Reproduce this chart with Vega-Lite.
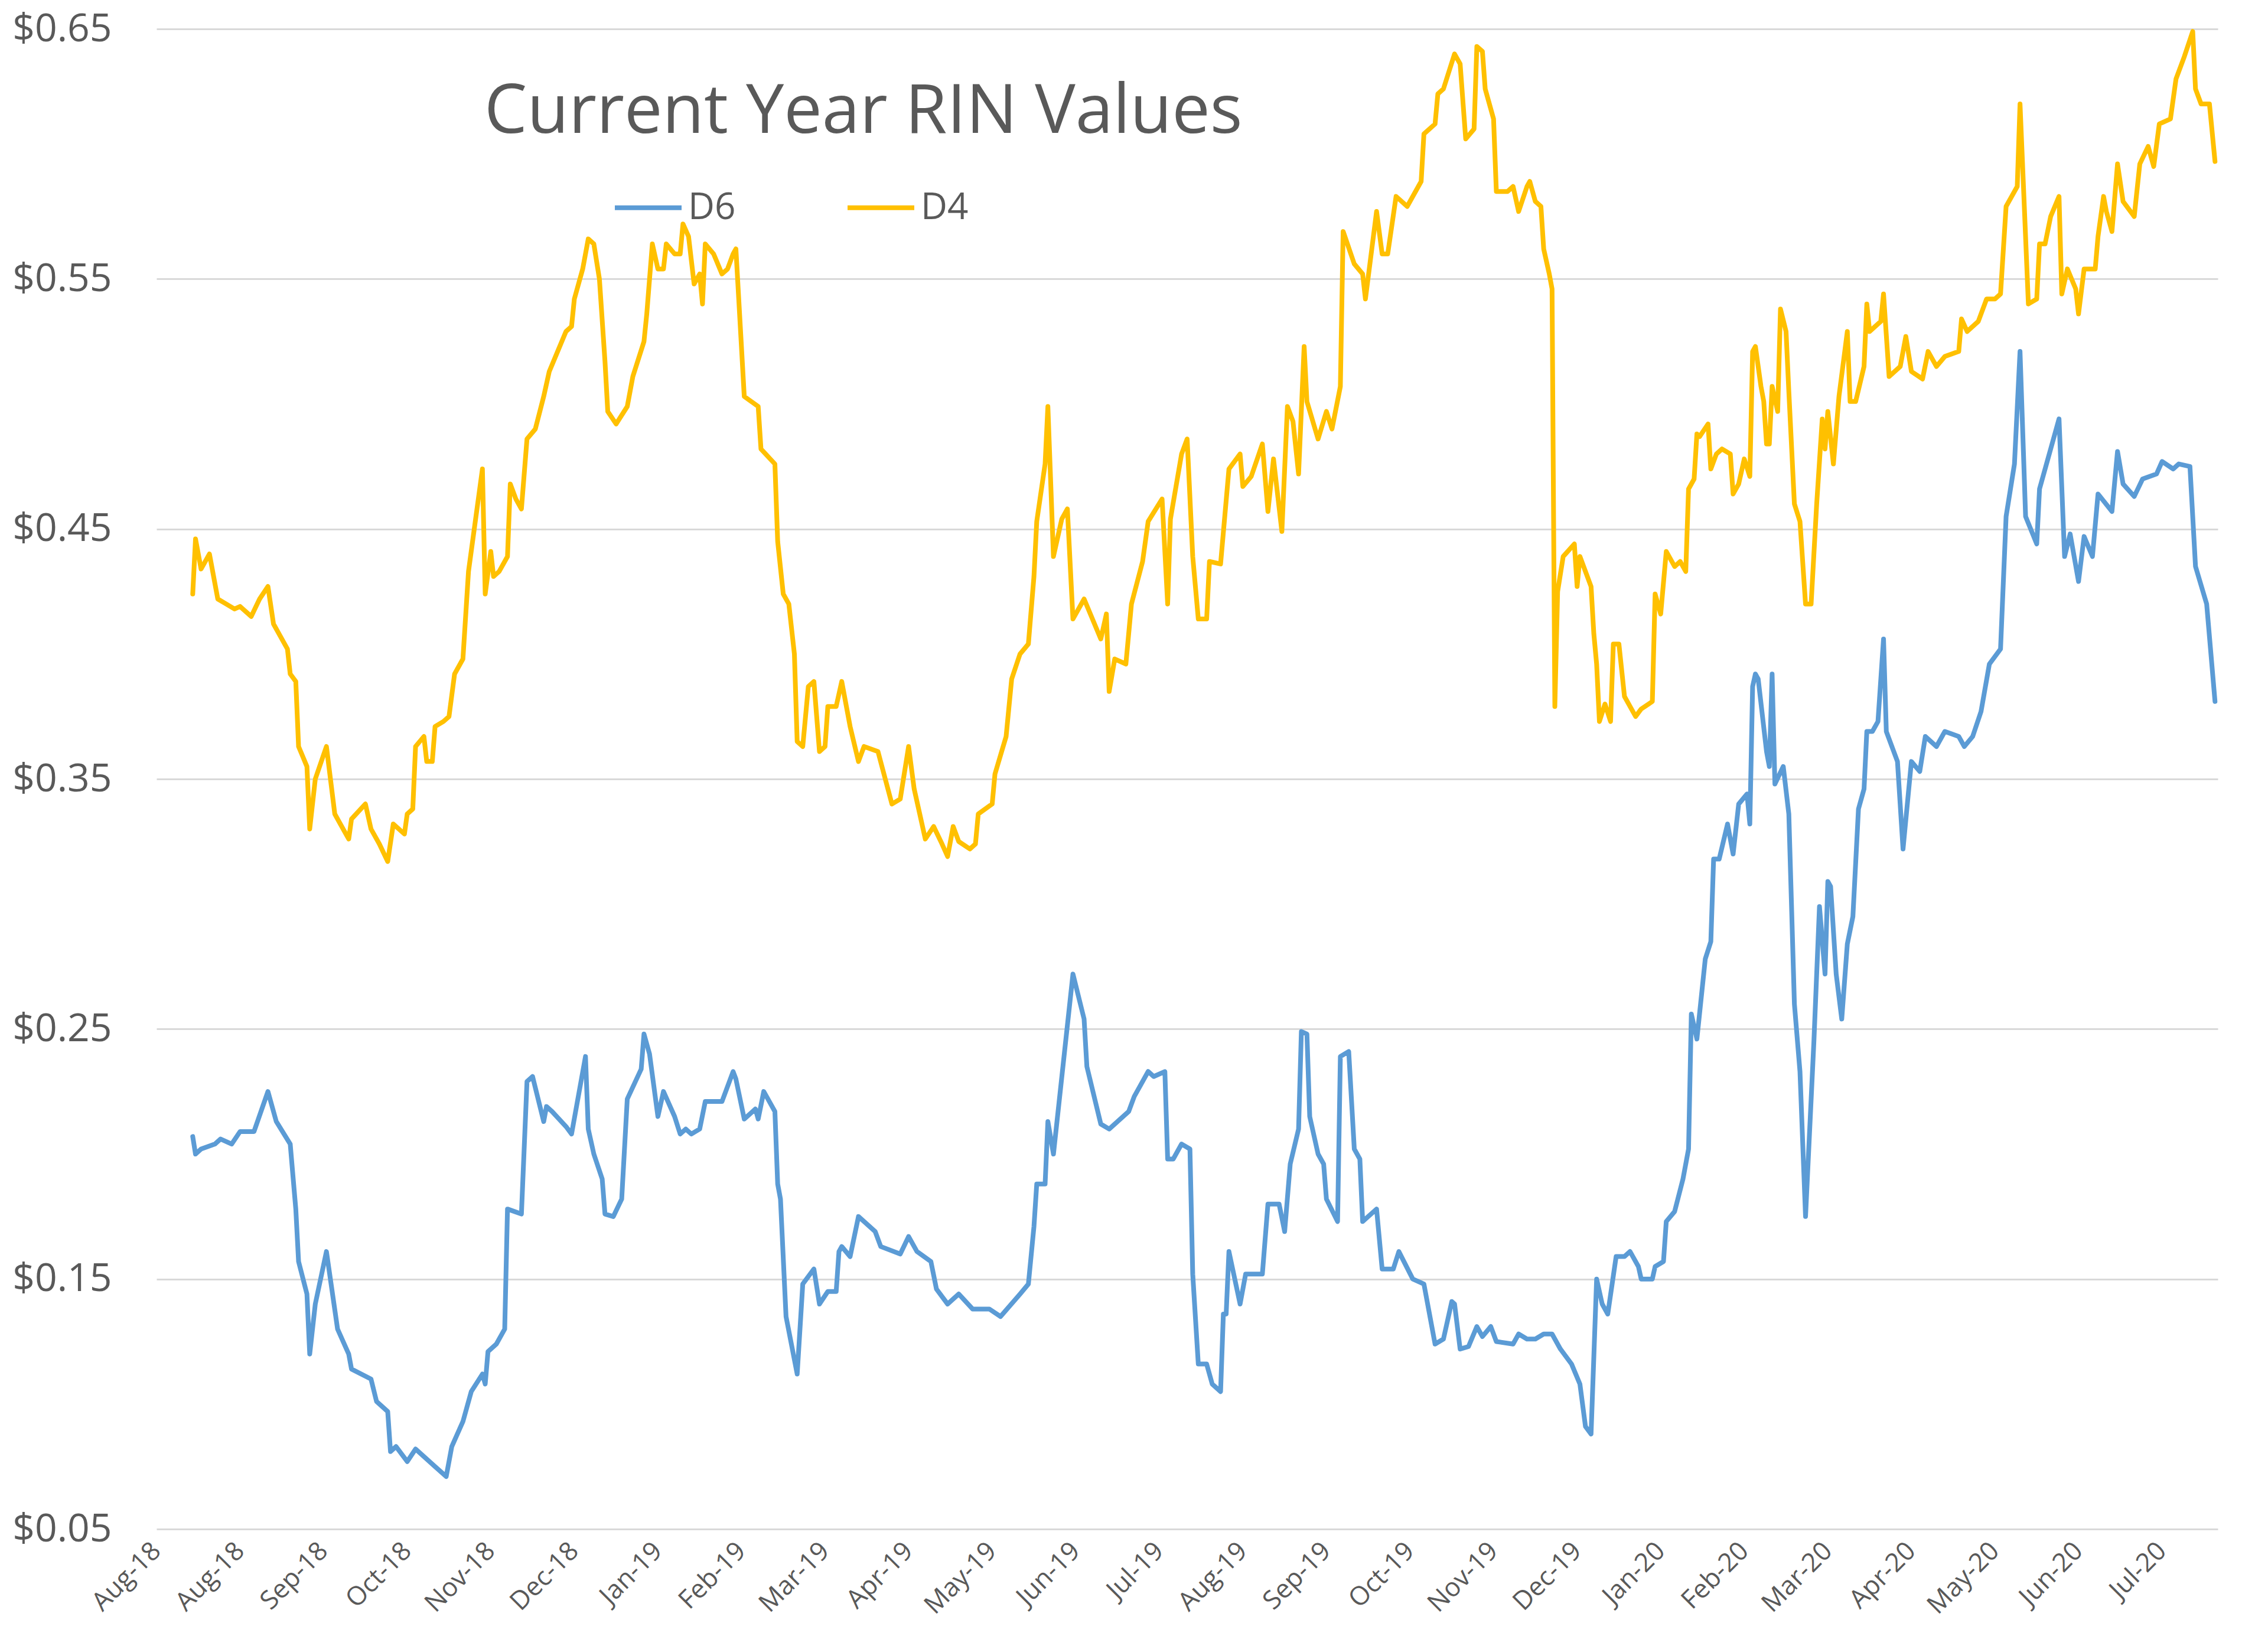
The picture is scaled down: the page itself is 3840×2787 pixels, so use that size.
{
  "$schema": "https://vega.github.io/schema/vega-lite/v6.json",
  "autosize": {"type": "none"},
  "width": 3490,
  "height": 2540,
  "padding": {"left": 265, "top": 49, "right": 85, "bottom": 198},
  "background": "white",
  "config": {"view": {"stroke": null}, "font": "Open Sans"},
  "title": {"text": "Current Year RIN Values", "orient": "top", "anchor": "start", "frame": "group", "offset": 0, "dx": 555, "dy": 324, "baseline": "alphabetic", "fontSize": 115, "fontWeight": "normal", "font": "Open Sans", "color": "#595959"},
  "data": {"values": [
{"date":"2018-08-14","series":"D6","price":0.207},{"date":"2018-08-15","series":"D6","price":0.200},{"date":"2018-08-17","series":"D6","price":0.202},{"date":"2018-08-22","series":"D6","price":0.204},{"date":"2018-08-24","series":"D6","price":0.206},{"date":"2018-08-28","series":"D6","price":0.204},{"date":"2018-08-31","series":"D6","price":0.209},{"date":"2018-09-05","series":"D6","price":0.209},{"date":"2018-09-10","series":"D6","price":0.225},{"date":"2018-09-13","series":"D6","price":0.213},{"date":"2018-09-18","series":"D6","price":0.204},{"date":"2018-09-20","series":"D6","price":0.178},{"date":"2018-09-21","series":"D6","price":0.157},{"date":"2018-09-24","series":"D6","price":0.144},{"date":"2018-09-25","series":"D6","price":0.120},{"date":"2018-09-27","series":"D6","price":0.140},{"date":"2018-10-01","series":"D6","price":0.161},{"date":"2018-10-05","series":"D6","price":0.130},{"date":"2018-10-09","series":"D6","price":0.120},{"date":"2018-10-10","series":"D6","price":0.114},{"date":"2018-10-17","series":"D6","price":0.110},{"date":"2018-10-19","series":"D6","price":0.101},{"date":"2018-10-23","series":"D6","price":0.097},{"date":"2018-10-24","series":"D6","price":0.081},{"date":"2018-10-26","series":"D6","price":0.083},{"date":"2018-10-30","series":"D6","price":0.077},{"date":"2018-11-02","series":"D6","price":0.082},{"date":"2018-11-05","series":"D6","price":0.079},{"date":"2018-11-09","series":"D6","price":0.075},{"date":"2018-11-13","series":"D6","price":0.071},{"date":"2018-11-15","series":"D6","price":0.083},{"date":"2018-11-19","series":"D6","price":0.093},{"date":"2018-11-22","series":"D6","price":0.105},{"date":"2018-11-26","series":"D6","price":0.112},{"date":"2018-11-27","series":"D6","price":0.108},{"date":"2018-11-28","series":"D6","price":0.121},{"date":"2018-12-01","series":"D6","price":0.124},{"date":"2018-12-04","series":"D6","price":0.130},{"date":"2018-12-05","series":"D6","price":0.178},{"date":"2018-12-10","series":"D6","price":0.176},{"date":"2018-12-12","series":"D6","price":0.229},{"date":"2018-12-14","series":"D6","price":0.231},{"date":"2018-12-18","series":"D6","price":0.213},{"date":"2018-12-19","series":"D6","price":0.219},{"date":"2018-12-21","series":"D6","price":0.217},{"date":"2018-12-26","series":"D6","price":0.211},{"date":"2018-12-28","series":"D6","price":0.208},{"date":"2019-01-02","series":"D6","price":0.239},{"date":"2019-01-03","series":"D6","price":0.210},{"date":"2019-01-05","series":"D6","price":0.200},{"date":"2019-01-08","series":"D6","price":0.190},{"date":"2019-01-09","series":"D6","price":0.176},{"date":"2019-01-12","series":"D6","price":0.175},{"date":"2019-01-15","series":"D6","price":0.182},{"date":"2019-01-17","series":"D6","price":0.222},{"date":"2019-01-22","series":"D6","price":0.234},{"date":"2019-01-23","series":"D6","price":0.248},{"date":"2019-01-25","series":"D6","price":0.240},{"date":"2019-01-28","series":"D6","price":0.215},{"date":"2019-01-30","series":"D6","price":0.225},{"date":"2019-02-03","series":"D6","price":0.215},{"date":"2019-02-05","series":"D6","price":0.208},{"date":"2019-02-07","series":"D6","price":0.210},{"date":"2019-02-09","series":"D6","price":0.208},{"date":"2019-02-12","series":"D6","price":0.210},{"date":"2019-02-14","series":"D6","price":0.221},{"date":"2019-02-20","series":"D6","price":0.221},{"date":"2019-02-24","series":"D6","price":0.233},{"date":"2019-02-25","series":"D6","price":0.230},{"date":"2019-02-28","series":"D6","price":0.214},{"date":"2019-03-04","series":"D6","price":0.218},{"date":"2019-03-05","series":"D6","price":0.214},{"date":"2019-03-07","series":"D6","price":0.225},{"date":"2019-03-11","series":"D6","price":0.217},{"date":"2019-03-12","series":"D6","price":0.188},{"date":"2019-03-13","series":"D6","price":0.182},{"date":"2019-03-15","series":"D6","price":0.135},{"date":"2019-03-19","series":"D6","price":0.112},{"date":"2019-03-21","series":"D6","price":0.148},{"date":"2019-03-25","series":"D6","price":0.154},{"date":"2019-03-27","series":"D6","price":0.140},{"date":"2019-03-30","series":"D6","price":0.145},{"date":"2019-04-02","series":"D6","price":0.145},{"date":"2019-04-03","series":"D6","price":0.161},{"date":"2019-04-04","series":"D6","price":0.163},{"date":"2019-04-07","series":"D6","price":0.159},{"date":"2019-04-10","series":"D6","price":0.175},{"date":"2019-04-16","series":"D6","price":0.169},{"date":"2019-04-18","series":"D6","price":0.163},{"date":"2019-04-25","series":"D6","price":0.160},{"date":"2019-04-28","series":"D6","price":0.167},{"date":"2019-05-01","series":"D6","price":0.161},{"date":"2019-05-06","series":"D6","price":0.157},{"date":"2019-05-08","series":"D6","price":0.146},{"date":"2019-05-12","series":"D6","price":0.140},{"date":"2019-05-16","series":"D6","price":0.144},{"date":"2019-05-21","series":"D6","price":0.138},{"date":"2019-05-27","series":"D6","price":0.138},{"date":"2019-05-31","series":"D6","price":0.135},{"date":"2019-06-07","series":"D6","price":0.144},{"date":"2019-06-10","series":"D6","price":0.148},{"date":"2019-06-12","series":"D6","price":0.171},{"date":"2019-06-13","series":"D6","price":0.188},{"date":"2019-06-16","series":"D6","price":0.188},{"date":"2019-06-17","series":"D6","price":0.213},{"date":"2019-06-19","series":"D6","price":0.200},{"date":"2019-06-26","series":"D6","price":0.272},{"date":"2019-06-30","series":"D6","price":0.254},{"date":"2019-07-01","series":"D6","price":0.235},{"date":"2019-07-06","series":"D6","price":0.212},{"date":"2019-07-09","series":"D6","price":0.210},{"date":"2019-07-16","series":"D6","price":0.217},{"date":"2019-07-18","series":"D6","price":0.223},{"date":"2019-07-23","series":"D6","price":0.233},{"date":"2019-07-25","series":"D6","price":0.231},{"date":"2019-07-29","series":"D6","price":0.233},{"date":"2019-07-30","series":"D6","price":0.198},{"date":"2019-08-01","series":"D6","price":0.198},{"date":"2019-08-04","series":"D6","price":0.204},{"date":"2019-08-07","series":"D6","price":0.202},{"date":"2019-08-08","series":"D6","price":0.152},{"date":"2019-08-10","series":"D6","price":0.116},{"date":"2019-08-13","series":"D6","price":0.116},{"date":"2019-08-15","series":"D6","price":0.108},{"date":"2019-08-18","series":"D6","price":0.105},{"date":"2019-08-19","series":"D6","price":0.136},{"date":"2019-08-20","series":"D6","price":0.136},{"date":"2019-08-21","series":"D6","price":0.161},{"date":"2019-08-25","series":"D6","price":0.140},{"date":"2019-08-27","series":"D6","price":0.152},{"date":"2019-09-02","series":"D6","price":0.152},{"date":"2019-09-04","series":"D6","price":0.180},{"date":"2019-09-08","series":"D6","price":0.180},{"date":"2019-09-10","series":"D6","price":0.169},{"date":"2019-09-12","series":"D6","price":0.196},{"date":"2019-09-15","series":"D6","price":0.210},{"date":"2019-09-16","series":"D6","price":0.249},{"date":"2019-09-18","series":"D6","price":0.248},{"date":"2019-09-19","series":"D6","price":0.215},{"date":"2019-09-22","series":"D6","price":0.200},{"date":"2019-09-24","series":"D6","price":0.196},{"date":"2019-09-25","series":"D6","price":0.182},{"date":"2019-09-29","series":"D6","price":0.173},{"date":"2019-09-30","series":"D6","price":0.239},{"date":"2019-10-03","series":"D6","price":0.241},{"date":"2019-10-05","series":"D6","price":0.202},{"date":"2019-10-07","series":"D6","price":0.198},{"date":"2019-10-08","series":"D6","price":0.173},{"date":"2019-10-13","series":"D6","price":0.178},{"date":"2019-10-15","series":"D6","price":0.154},{"date":"2019-10-19","series":"D6","price":0.154},{"date":"2019-10-21","series":"D6","price":0.161},{"date":"2019-10-26","series":"D6","price":0.150},{"date":"2019-10-30","series":"D6","price":0.148},{"date":"2019-11-03","series":"D6","price":0.124},{"date":"2019-11-06","series":"D6","price":0.126},{"date":"2019-11-09","series":"D6","price":0.141},{"date":"2019-11-10","series":"D6","price":0.140},{"date":"2019-11-12","series":"D6","price":0.122},{"date":"2019-11-15","series":"D6","price":0.123},{"date":"2019-11-18","series":"D6","price":0.131},{"date":"2019-11-20","series":"D6","price":0.127},{"date":"2019-11-23","series":"D6","price":0.131},{"date":"2019-11-25","series":"D6","price":0.125},{"date":"2019-12-01","series":"D6","price":0.124},{"date":"2019-12-03","series":"D6","price":0.128},{"date":"2019-12-06","series":"D6","price":0.126},{"date":"2019-12-09","series":"D6","price":0.126},{"date":"2019-12-12","series":"D6","price":0.128},{"date":"2019-12-15","series":"D6","price":0.128},{"date":"2019-12-18","series":"D6","price":0.122},{"date":"2019-12-22","series":"D6","price":0.116},{"date":"2019-12-25","series":"D6","price":0.108},{"date":"2019-12-27","series":"D6","price":0.091},{"date":"2019-12-29","series":"D6","price":0.088},{"date":"2019-12-31","series":"D6","price":0.150},{"date":"2020-01-02","series":"D6","price":0.140},{"date":"2020-01-04","series":"D6","price":0.136},{"date":"2020-01-07","series":"D6","price":0.159},{"date":"2020-01-10","series":"D6","price":0.159},{"date":"2020-01-12","series":"D6","price":0.161},{"date":"2020-01-15","series":"D6","price":0.155},{"date":"2020-01-16","series":"D6","price":0.150},{"date":"2020-01-20","series":"D6","price":0.150},{"date":"2020-01-21","series":"D6","price":0.155},{"date":"2020-01-24","series":"D6","price":0.157},{"date":"2020-01-25","series":"D6","price":0.173},{"date":"2020-01-28","series":"D6","price":0.177},{"date":"2020-01-31","series":"D6","price":0.190},{"date":"2020-02-02","series":"D6","price":0.202},{"date":"2020-02-03","series":"D6","price":0.256},{"date":"2020-02-05","series":"D6","price":0.246},{"date":"2020-02-08","series":"D6","price":0.278},{"date":"2020-02-10","series":"D6","price":0.285},{"date":"2020-02-11","series":"D6","price":0.318},{"date":"2020-02-13","series":"D6","price":0.318},{"date":"2020-02-16","series":"D6","price":0.332},{"date":"2020-02-18","series":"D6","price":0.320},{"date":"2020-02-20","series":"D6","price":0.340},{"date":"2020-02-23","series":"D6","price":0.344},{"date":"2020-02-24","series":"D6","price":0.332},{"date":"2020-02-25","series":"D6","price":0.387},{"date":"2020-02-26","series":"D6","price":0.392},{"date":"2020-02-27","series":"D6","price":0.390},{"date":"2020-03-01","series":"D6","price":0.361},{"date":"2020-03-02","series":"D6","price":0.355},{"date":"2020-03-03","series":"D6","price":0.392},{"date":"2020-03-04","series":"D6","price":0.348},{"date":"2020-03-07","series":"D6","price":0.355},{"date":"2020-03-09","series":"D6","price":0.336},{"date":"2020-03-11","series":"D6","price":0.260},{"date":"2020-03-13","series":"D6","price":0.233},{"date":"2020-03-15","series":"D6","price":0.175},{"date":"2020-03-18","series":"D6","price":0.245},{"date":"2020-03-20","series":"D6","price":0.299},{"date":"2020-03-22","series":"D6","price":0.272},{"date":"2020-03-23","series":"D6","price":0.309},{"date":"2020-03-24","series":"D6","price":0.307},{"date":"2020-03-26","series":"D6","price":0.272},{"date":"2020-03-28","series":"D6","price":0.254},{"date":"2020-03-30","series":"D6","price":0.284},{"date":"2020-04-01","series":"D6","price":0.295},{"date":"2020-04-03","series":"D6","price":0.338},{"date":"2020-04-05","series":"D6","price":0.346},{"date":"2020-04-06","series":"D6","price":0.369},{"date":"2020-04-08","series":"D6","price":0.369},{"date":"2020-04-10","series":"D6","price":0.373},{"date":"2020-04-12","series":"D6","price":0.406},{"date":"2020-04-13","series":"D6","price":0.369},{"date":"2020-04-17","series":"D6","price":0.357},{"date":"2020-04-19","series":"D6","price":0.322},{"date":"2020-04-22","series":"D6","price":0.357},{"date":"2020-04-25","series":"D6","price":0.353},{"date":"2020-04-27","series":"D6","price":0.367},{"date":"2020-05-01","series":"D6","price":0.363},{"date":"2020-05-04","series":"D6","price":0.369},{"date":"2020-05-09","series":"D6","price":0.367},{"date":"2020-05-11","series":"D6","price":0.363},{"date":"2020-05-14","series":"D6","price":0.367},{"date":"2020-05-17","series":"D6","price":0.377},{"date":"2020-05-20","series":"D6","price":0.396},{"date":"2020-05-24","series":"D6","price":0.402},{"date":"2020-05-26","series":"D6","price":0.455},{"date":"2020-05-29","series":"D6","price":0.476},{"date":"2020-05-31","series":"D6","price":0.521},{"date":"2020-06-02","series":"D6","price":0.455},{"date":"2020-06-06","series":"D6","price":0.444},{"date":"2020-06-07","series":"D6","price":0.466},{"date":"2020-06-11","series":"D6","price":0.482},{"date":"2020-06-14","series":"D6","price":0.494},{"date":"2020-06-16","series":"D6","price":0.439},{"date":"2020-06-18","series":"D6","price":0.448},{"date":"2020-06-21","series":"D6","price":0.429},{"date":"2020-06-23","series":"D6","price":0.447},{"date":"2020-06-26","series":"D6","price":0.439},{"date":"2020-06-28","series":"D6","price":0.464},{"date":"2020-07-03","series":"D6","price":0.457},{"date":"2020-07-05","series":"D6","price":0.481},{"date":"2020-07-07","series":"D6","price":0.468},{"date":"2020-07-11","series":"D6","price":0.463},{"date":"2020-07-14","series":"D6","price":0.470},{"date":"2020-07-19","series":"D6","price":0.472},{"date":"2020-07-21","series":"D6","price":0.477},{"date":"2020-07-25","series":"D6","price":0.474},{"date":"2020-07-27","series":"D6","price":0.476},{"date":"2020-07-31","series":"D6","price":0.475},{"date":"2020-08-02","series":"D6","price":0.435},{"date":"2020-08-06","series":"D6","price":0.420},{"date":"2020-08-09","series":"D6","price":0.381},
{"date":"2018-08-14","series":"D4","price":0.424},{"date":"2018-08-15","series":"D4","price":0.446},{"date":"2018-08-17","series":"D4","price":0.434},{"date":"2018-08-20","series":"D4","price":0.440},{"date":"2018-08-23","series":"D4","price":0.422},{"date":"2018-08-26","series":"D4","price":0.420},{"date":"2018-08-29","series":"D4","price":0.418},{"date":"2018-08-31","series":"D4","price":0.419},{"date":"2018-09-04","series":"D4","price":0.415},{"date":"2018-09-07","series":"D4","price":0.422},{"date":"2018-09-10","series":"D4","price":0.427},{"date":"2018-09-12","series":"D4","price":0.412},{"date":"2018-09-17","series":"D4","price":0.402},{"date":"2018-09-18","series":"D4","price":0.392},{"date":"2018-09-20","series":"D4","price":0.389},{"date":"2018-09-21","series":"D4","price":0.363},{"date":"2018-09-24","series":"D4","price":0.355},{"date":"2018-09-25","series":"D4","price":0.330},{"date":"2018-09-27","series":"D4","price":0.350},{"date":"2018-10-01","series":"D4","price":0.363},{"date":"2018-10-04","series":"D4","price":0.336},{"date":"2018-10-06","series":"D4","price":0.332},{"date":"2018-10-09","series":"D4","price":0.326},{"date":"2018-10-10","series":"D4","price":0.334},{"date":"2018-10-15","series":"D4","price":0.340},{"date":"2018-10-17","series":"D4","price":0.330},{"date":"2018-10-20","series":"D4","price":0.324},{"date":"2018-10-23","series":"D4","price":0.317},{"date":"2018-10-25","series":"D4","price":0.332},{"date":"2018-10-29","series":"D4","price":0.328},{"date":"2018-10-30","series":"D4","price":0.336},{"date":"2018-11-01","series":"D4","price":0.338},{"date":"2018-11-02","series":"D4","price":0.363},{"date":"2018-11-05","series":"D4","price":0.367},{"date":"2018-11-06","series":"D4","price":0.357},{"date":"2018-11-08","series":"D4","price":0.357},{"date":"2018-11-09","series":"D4","price":0.371},{"date":"2018-11-12","series":"D4","price":0.373},{"date":"2018-11-14","series":"D4","price":0.375},{"date":"2018-11-16","series":"D4","price":0.392},{"date":"2018-11-19","series":"D4","price":0.398},{"date":"2018-11-21","series":"D4","price":0.433},{"date":"2018-11-26","series":"D4","price":0.474},{"date":"2018-11-27","series":"D4","price":0.424},{"date":"2018-11-29","series":"D4","price":0.441},{"date":"2018-11-30","series":"D4","price":0.431},{"date":"2018-12-02","series":"D4","price":0.433},{"date":"2018-12-05","series":"D4","price":0.439},{"date":"2018-12-06","series":"D4","price":0.468},{"date":"2018-12-08","series":"D4","price":0.462},{"date":"2018-12-10","series":"D4","price":0.458},{"date":"2018-12-12","series":"D4","price":0.486},{"date":"2018-12-15","series":"D4","price":0.490},{"date":"2018-12-18","series":"D4","price":0.503},{"date":"2018-12-20","series":"D4","price":0.513},{"date":"2018-12-23","series":"D4","price":0.521},{"date":"2018-12-26","series":"D4","price":0.529},{"date":"2018-12-28","series":"D4","price":0.531},{"date":"2018-12-29","series":"D4","price":0.542},{"date":"2019-01-01","series":"D4","price":0.554},{"date":"2019-01-03","series":"D4","price":0.566},{"date":"2019-01-05","series":"D4","price":0.564},{"date":"2019-01-07","series":"D4","price":0.550},{"date":"2019-01-09","series":"D4","price":0.517},{"date":"2019-01-10","series":"D4","price":0.497},{"date":"2019-01-13","series":"D4","price":0.492},{"date":"2019-01-17","series":"D4","price":0.499},{"date":"2019-01-19","series":"D4","price":0.511},{"date":"2019-01-23","series":"D4","price":0.525},{"date":"2019-01-24","series":"D4","price":0.536},{"date":"2019-01-26","series":"D4","price":0.564},{"date":"2019-01-28","series":"D4","price":0.554},{"date":"2019-01-30","series":"D4","price":0.554},{"date":"2019-01-31","series":"D4","price":0.564},{"date":"2019-02-03","series":"D4","price":0.560},{"date":"2019-02-05","series":"D4","price":0.560},{"date":"2019-02-06","series":"D4","price":0.572},{"date":"2019-02-08","series":"D4","price":0.567},{"date":"2019-02-10","series":"D4","price":0.548},{"date":"2019-02-12","series":"D4","price":0.552},{"date":"2019-02-13","series":"D4","price":0.540},{"date":"2019-02-14","series":"D4","price":0.564},{"date":"2019-02-17","series":"D4","price":0.560},{"date":"2019-02-20","series":"D4","price":0.552},{"date":"2019-02-22","series":"D4","price":0.554},{"date":"2019-02-24","series":"D4","price":0.560},{"date":"2019-02-25","series":"D4","price":0.562},{"date":"2019-02-28","series":"D4","price":0.503},{"date":"2019-03-05","series":"D4","price":0.499},{"date":"2019-03-06","series":"D4","price":0.482},{"date":"2019-03-11","series":"D4","price":0.476},{"date":"2019-03-12","series":"D4","price":0.445},{"date":"2019-03-14","series":"D4","price":0.424},{"date":"2019-03-16","series":"D4","price":0.420},{"date":"2019-03-18","series":"D4","price":0.400},{"date":"2019-03-19","series":"D4","price":0.365},{"date":"2019-03-21","series":"D4","price":0.363},{"date":"2019-03-23","series":"D4","price":0.387},{"date":"2019-03-25","series":"D4","price":0.389},{"date":"2019-03-27","series":"D4","price":0.361},{"date":"2019-03-29","series":"D4","price":0.363},{"date":"2019-03-30","series":"D4","price":0.379},{"date":"2019-04-02","series":"D4","price":0.379},{"date":"2019-04-04","series":"D4","price":0.389},{"date":"2019-04-07","series":"D4","price":0.371},{"date":"2019-04-10","series":"D4","price":0.357},{"date":"2019-04-12","series":"D4","price":0.363},{"date":"2019-04-17","series":"D4","price":0.361},{"date":"2019-04-22","series":"D4","price":0.340},{"date":"2019-04-25","series":"D4","price":0.342},{"date":"2019-04-28","series":"D4","price":0.363},{"date":"2019-04-30","series":"D4","price":0.346},{"date":"2019-05-04","series":"D4","price":0.326},{"date":"2019-05-07","series":"D4","price":0.331},{"date":"2019-05-10","series":"D4","price":0.324},{"date":"2019-05-12","series":"D4","price":0.319},{"date":"2019-05-14","series":"D4","price":0.331},{"date":"2019-05-16","series":"D4","price":0.325},{"date":"2019-05-20","series":"D4","price":0.322},{"date":"2019-05-22","series":"D4","price":0.324},{"date":"2019-05-23","series":"D4","price":0.336},{"date":"2019-05-28","series":"D4","price":0.340},{"date":"2019-05-29","series":"D4","price":0.352},{"date":"2019-06-02","series":"D4","price":0.367},{"date":"2019-06-04","series":"D4","price":0.390},{"date":"2019-06-07","series":"D4","price":0.400},{"date":"2019-06-10","series":"D4","price":0.404},{"date":"2019-06-12","series":"D4","price":0.431},{"date":"2019-06-13","series":"D4","price":0.453},{"date":"2019-06-16","series":"D4","price":0.476},{"date":"2019-06-17","series":"D4","price":0.499},{"date":"2019-06-19","series":"D4","price":0.439},{"date":"2019-06-22","series":"D4","price":0.454},{"date":"2019-06-24","series":"D4","price":0.458},{"date":"2019-06-26","series":"D4","price":0.414},{"date":"2019-06-30","series":"D4","price":0.422},{"date":"2019-07-06","series":"D4","price":0.406},{"date":"2019-07-08","series":"D4","price":0.416},{"date":"2019-07-09","series":"D4","price":0.385},{"date":"2019-07-11","series":"D4","price":0.398},{"date":"2019-07-15","series":"D4","price":0.396},{"date":"2019-07-17","series":"D4","price":0.420},{"date":"2019-07-21","series":"D4","price":0.437},{"date":"2019-07-23","series":"D4","price":0.453},{"date":"2019-07-28","series":"D4","price":0.462},{"date":"2019-07-30","series":"D4","price":0.420},{"date":"2019-07-31","series":"D4","price":0.454},{"date":"2019-08-04","series":"D4","price":0.480},{"date":"2019-08-06","series":"D4","price":0.486},{"date":"2019-08-08","series":"D4","price":0.439},{"date":"2019-08-10","series":"D4","price":0.414},{"date":"2019-08-13","series":"D4","price":0.414},{"date":"2019-08-14","series":"D4","price":0.437},{"date":"2019-08-18","series":"D4","price":0.436},{"date":"2019-08-21","series":"D4","price":0.474},{"date":"2019-08-25","series":"D4","price":0.480},{"date":"2019-08-26","series":"D4","price":0.467},{"date":"2019-08-29","series":"D4","price":0.471},{"date":"2019-09-02","series":"D4","price":0.484},{"date":"2019-09-04","series":"D4","price":0.457},{"date":"2019-09-06","series":"D4","price":0.478},{"date":"2019-09-09","series":"D4","price":0.449},{"date":"2019-09-11","series":"D4","price":0.499},{"date":"2019-09-13","series":"D4","price":0.493},{"date":"2019-09-15","series":"D4","price":0.472},{"date":"2019-09-17","series":"D4","price":0.523},{"date":"2019-09-18","series":"D4","price":0.501},{"date":"2019-09-22","series":"D4","price":0.486},{"date":"2019-09-25","series":"D4","price":0.497},{"date":"2019-09-27","series":"D4","price":0.490},{"date":"2019-09-30","series":"D4","price":0.507},{"date":"2019-10-01","series":"D4","price":0.569},{"date":"2019-10-05","series":"D4","price":0.556},{"date":"2019-10-08","series":"D4","price":0.552},{"date":"2019-10-09","series":"D4","price":0.542},{"date":"2019-10-13","series":"D4","price":0.577},{"date":"2019-10-15","series":"D4","price":0.560},{"date":"2019-10-17","series":"D4","price":0.560},{"date":"2019-10-20","series":"D4","price":0.583},{"date":"2019-10-24","series":"D4","price":0.579},{"date":"2019-10-29","series":"D4","price":0.589},{"date":"2019-10-30","series":"D4","price":0.608},{"date":"2019-11-03","series":"D4","price":0.612},{"date":"2019-11-04","series":"D4","price":0.624},{"date":"2019-11-06","series":"D4","price":0.626},{"date":"2019-11-10","series":"D4","price":0.640},{"date":"2019-11-12","series":"D4","price":0.636},{"date":"2019-11-14","series":"D4","price":0.606},{"date":"2019-11-17","series":"D4","price":0.610},{"date":"2019-11-18","series":"D4","price":0.643},{"date":"2019-11-20","series":"D4","price":0.641},{"date":"2019-11-21","series":"D4","price":0.626},{"date":"2019-11-24","series":"D4","price":0.614},{"date":"2019-11-25","series":"D4","price":0.585},{"date":"2019-11-29","series":"D4","price":0.585},{"date":"2019-12-01","series":"D4","price":0.587},{"date":"2019-12-03","series":"D4","price":0.577},{"date":"2019-12-06","series":"D4","price":0.587},{"date":"2019-12-07","series":"D4","price":0.589},{"date":"2019-12-09","series":"D4","price":0.581},{"date":"2019-12-11","series":"D4","price":0.579},{"date":"2019-12-12","series":"D4","price":0.562},{"date":"2019-12-14","series":"D4","price":0.552},{"date":"2019-12-15","series":"D4","price":0.546},{"date":"2019-12-16","series":"D4","price":0.379},{"date":"2019-12-17","series":"D4","price":0.425},{"date":"2019-12-19","series":"D4","price":0.439},{"date":"2019-12-23","series":"D4","price":0.444},{"date":"2019-12-24","series":"D4","price":0.427},{"date":"2019-12-25","series":"D4","price":0.439},{"date":"2019-12-29","series":"D4","price":0.427},{"date":"2019-12-30","series":"D4","price":0.408},{"date":"2019-12-31","series":"D4","price":0.396},{"date":"2020-01-01","series":"D4","price":0.373},{"date":"2020-01-03","series":"D4","price":0.380},{"date":"2020-01-05","series":"D4","price":0.373},{"date":"2020-01-06","series":"D4","price":0.404},{"date":"2020-01-08","series":"D4","price":0.404},{"date":"2020-01-10","series":"D4","price":0.383},{"date":"2020-01-14","series":"D4","price":0.375},{"date":"2020-01-16","series":"D4","price":0.378},{"date":"2020-01-20","series":"D4","price":0.381},{"date":"2020-01-21","series":"D4","price":0.424},{"date":"2020-01-23","series":"D4","price":0.416},{"date":"2020-01-25","series":"D4","price":0.441},{"date":"2020-01-28","series":"D4","price":0.435},{"date":"2020-01-30","series":"D4","price":0.437},{"date":"2020-02-01","series":"D4","price":0.433},{"date":"2020-02-02","series":"D4","price":0.466},{"date":"2020-02-04","series":"D4","price":0.470},{"date":"2020-02-05","series":"D4","price":0.488},{"date":"2020-02-06","series":"D4","price":0.487},{"date":"2020-02-09","series":"D4","price":0.492},{"date":"2020-02-10","series":"D4","price":0.474},{"date":"2020-02-12","series":"D4","price":0.480},{"date":"2020-02-14","series":"D4","price":0.482},{"date":"2020-02-17","series":"D4","price":0.480},{"date":"2020-02-18","series":"D4","price":0.464},{"date":"2020-02-20","series":"D4","price":0.468},{"date":"2020-02-22","series":"D4","price":0.478},{"date":"2020-02-24","series":"D4","price":0.471},{"date":"2020-02-25","series":"D4","price":0.521},{"date":"2020-02-26","series":"D4","price":0.523},{"date":"2020-02-28","series":"D4","price":0.507},{"date":"2020-02-29","series":"D4","price":0.501},{"date":"2020-03-01","series":"D4","price":0.484},{"date":"2020-03-02","series":"D4","price":0.484},{"date":"2020-03-03","series":"D4","price":0.507},{"date":"2020-03-05","series":"D4","price":0.497},{"date":"2020-03-06","series":"D4","price":0.538},{"date":"2020-03-08","series":"D4","price":0.529},{"date":"2020-03-09","series":"D4","price":0.505},{"date":"2020-03-11","series":"D4","price":0.460},{"date":"2020-03-13","series":"D4","price":0.453},{"date":"2020-03-15","series":"D4","price":0.420},{"date":"2020-03-17","series":"D4","price":0.420},{"date":"2020-03-19","series":"D4","price":0.460},{"date":"2020-03-21","series":"D4","price":0.494},{"date":"2020-03-22","series":"D4","price":0.482},{"date":"2020-03-23","series":"D4","price":0.497},{"date":"2020-03-25","series":"D4","price":0.476},{"date":"2020-03-27","series":"D4","price":0.503},{"date":"2020-03-30","series":"D4","price":0.529},{"date":"2020-03-31","series":"D4","price":0.501},{"date":"2020-04-02","series":"D4","price":0.501},{"date":"2020-04-05","series":"D4","price":0.515},{"date":"2020-04-06","series":"D4","price":0.540},{"date":"2020-04-07","series":"D4","price":0.529},{"date":"2020-04-11","series":"D4","price":0.533},{"date":"2020-04-12","series":"D4","price":0.544},{"date":"2020-04-14","series":"D4","price":0.511},{"date":"2020-04-18","series":"D4","price":0.515},{"date":"2020-04-20","series":"D4","price":0.527},{"date":"2020-04-22","series":"D4","price":0.513},{"date":"2020-04-26","series":"D4","price":0.510},{"date":"2020-04-28","series":"D4","price":0.521},{"date":"2020-05-01","series":"D4","price":0.515},{"date":"2020-05-04","series":"D4","price":0.519},{"date":"2020-05-09","series":"D4","price":0.521},{"date":"2020-05-10","series":"D4","price":0.534},{"date":"2020-05-12","series":"D4","price":0.529},{"date":"2020-05-16","series":"D4","price":0.533},{"date":"2020-05-19","series":"D4","price":0.542},{"date":"2020-05-22","series":"D4","price":0.542},{"date":"2020-05-24","series":"D4","price":0.544},{"date":"2020-05-26","series":"D4","price":0.579},{"date":"2020-05-30","series":"D4","price":0.587},{"date":"2020-05-31","series":"D4","price":0.620},{"date":"2020-06-03","series":"D4","price":0.540},{"date":"2020-06-06","series":"D4","price":0.542},{"date":"2020-06-07","series":"D4","price":0.564},{"date":"2020-06-09","series":"D4","price":0.564},{"date":"2020-06-11","series":"D4","price":0.575},{"date":"2020-06-14","series":"D4","price":0.583},{"date":"2020-06-15","series":"D4","price":0.544},{"date":"2020-06-17","series":"D4","price":0.554},{"date":"2020-06-20","series":"D4","price":0.546},{"date":"2020-06-21","series":"D4","price":0.536},{"date":"2020-06-23","series":"D4","price":0.554},{"date":"2020-06-27","series":"D4","price":0.554},{"date":"2020-06-28","series":"D4","price":0.567},{"date":"2020-06-30","series":"D4","price":0.583},{"date":"2020-07-01","series":"D4","price":0.577},{"date":"2020-07-03","series":"D4","price":0.569},{"date":"2020-07-05","series":"D4","price":0.596},{"date":"2020-07-07","series":"D4","price":0.581},{"date":"2020-07-11","series":"D4","price":0.575},{"date":"2020-07-13","series":"D4","price":0.596},{"date":"2020-07-16","series":"D4","price":0.603},{"date":"2020-07-18","series":"D4","price":0.595},{"date":"2020-07-20","series":"D4","price":0.612},{"date":"2020-07-24","series":"D4","price":0.614},{"date":"2020-07-26","series":"D4","price":0.630},{"date":"2020-07-29","series":"D4","price":0.639},{"date":"2020-08-01","series":"D4","price":0.649},{"date":"2020-08-02","series":"D4","price":0.626},{"date":"2020-08-04","series":"D4","price":0.620},{"date":"2020-08-07","series":"D4","price":0.620},{"date":"2020-08-09","series":"D4","price":0.597}
  ]},
  "mark": {"type": "line", "strokeWidth": 8, "strokeJoin": "round", "strokeCap": "round"},
  "encoding": {
    "x": {
      "field": "date", "type": "temporal",
      "scale": {"type": "utc", "domain": [{"year": 2018, "month": 8, "date": 1, "utc": true}, {"year": 2020, "month": 8, "date": 10, "utc": true}]},
      "axis": {
        "title": null, "grid": false, "domain": false, "ticks": false,
        "values": [
          {"year": 2018, "month": 8, "date": 1, "utc": true}, {"year": 2018, "month": 8, "date": 31, "utc": true},
          {"year": 2018, "month": 9, "date": 30, "utc": true}, {"year": 2018, "month": 10, "date": 30, "utc": true},
          {"year": 2018, "month": 11, "date": 29, "utc": true}, {"year": 2018, "month": 12, "date": 29, "utc": true},
          {"year": 2019, "month": 1, "date": 28, "utc": true}, {"year": 2019, "month": 2, "date": 27, "utc": true},
          {"year": 2019, "month": 3, "date": 29, "utc": true}, {"year": 2019, "month": 4, "date": 28, "utc": true},
          {"year": 2019, "month": 5, "date": 28, "utc": true}, {"year": 2019, "month": 6, "date": 27, "utc": true},
          {"year": 2019, "month": 7, "date": 27, "utc": true}, {"year": 2019, "month": 8, "date": 26, "utc": true},
          {"year": 2019, "month": 9, "date": 25, "utc": true}, {"year": 2019, "month": 10, "date": 25, "utc": true},
          {"year": 2019, "month": 11, "date": 24, "utc": true}, {"year": 2019, "month": 12, "date": 24, "utc": true},
          {"year": 2020, "month": 1, "date": 23, "utc": true}, {"year": 2020, "month": 2, "date": 22, "utc": true},
          {"year": 2020, "month": 3, "date": 23, "utc": true}, {"year": 2020, "month": 4, "date": 22, "utc": true},
          {"year": 2020, "month": 5, "date": 22, "utc": true}, {"year": 2020, "month": 6, "date": 21, "utc": true},
          {"year": 2020, "month": 7, "date": 21, "utc": true}
        ],
        "labelExpr": "utcFormat(datum.value, '%b-%y')",
        "labelAngle": -45, "labelAlign": "right", "labelBaseline": "middle", "labelPadding": 30,
        "labelFontSize": 44, "labelColor": "#595959", "labelFont": "Open Sans",
        "labelOverlap": false, "labelBound": false, "labelFlush": false
      }
    },
    "y": {
      "field": "price", "type": "quantitative",
      "scale": {"domain": [0.05, 0.65], "nice": false, "zero": false},
      "axis": {
        "title": null, "values": [0.05, 0.15, 0.25, 0.35, 0.45, 0.55, 0.65], "format": "$.2f",
        "grid": true, "gridColor": "#D9D9D9", "gridWidth": 3, "domain": false, "ticks": false,
        "labelFontSize": 66, "labelColor": "#595959", "labelFont": "Open Sans", "labelPadding": 76,
        "labelBound": false, "labelFlush": false
      }
    },
    "color": {
      "field": "series", "type": "nominal",
      "scale": {"domain": ["D6", "D4"], "range": ["#5B9BD5", "#FFC000"]},
      "legend": {
        "orient": "none", "legendX": 772, "legendY": 242, "direction": "horizontal", "title": null,
        "symbolType": "stroke", "symbolSize": 12769, "symbolStrokeWidth": 8,
        "labelFontSize": 62, "labelColor": "#595959", "labelFont": "Open Sans", "labelOffset": 7,
        "columnPadding": 173, "padding": 0
      }
    }
  }
}
